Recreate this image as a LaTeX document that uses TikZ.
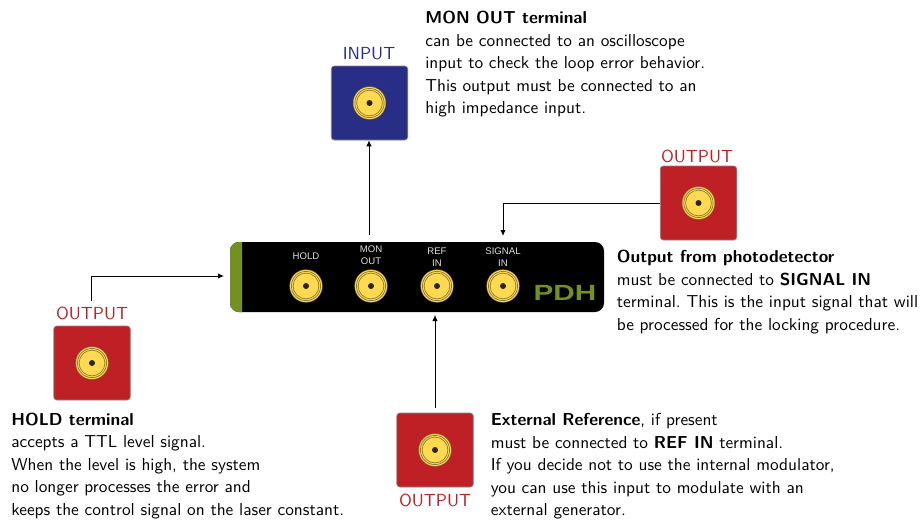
\documentclass[tikz,border=0pt]{standalone}
\usepackage{fontspec}
\setmainfont{Liberation Sans}
\setsansfont{Latin Modern Sans}
\usetikzlibrary{arrows.meta,calc}
\definecolor{cred}{HTML}{BE2025}
\definecolor{cblue}{HTML}{282D85}
\definecolor{cgreen}{HTML}{739021}
\definecolor{cgold}{HTML}{FFD94F}
\definecolor{cring}{HTML}{8A7A3A}
\definecolor{cedge}{HTML}{555555}
\tikzset{
 x=1pt,y=-1pt,
 srcbox/.style={draw=cedge!70,line width=0.6pt,rounded corners=3pt,minimum width=76.5pt,minimum height=74pt,inner sep=0pt},
 redbox/.style={srcbox,fill=cred},
 bluebox/.style={srcbox,fill=cblue},
 caption/.style={font=\sffamily\fontsize{10}{10}\selectfont,scale=1.75,inner sep=0pt},
 note/.style={font=\sffamily\frenchspacing\fontsize{10}{13}\selectfont,scale=1.73,align=left,anchor=north west,inner sep=0pt},
 panellabel/.style={font=\fontsize{9.6}{11.7}\selectfont,text=white!88!black,align=center,inner sep=0pt},
 conn/.style={line width=1pt,-{Latex[length=6pt,width=5.5pt]}},
}
\newcommand{\bnc}[1]{%
 \fill[cring] (#1) circle (16.6pt);
 \fill[cgold] (#1) circle (16pt);
 \draw[cring,line width=0.7pt] (#1) circle (14.6pt);
 \draw[cring,line width=0.7pt] (#1) circle (12.9pt);
 \fill[black!85] (#1) circle (3pt);
}
\begin{document}
\begin{tikzpicture}
\useasboundingbox (0,0) rectangle (924,522);
% panel
\fill[black,rounded corners=9pt] (230,242) rectangle (604,312);
\begin{scope}
\clip (230,241) rectangle (242,313);
\fill[cgreen,rounded corners=9pt] (230,242) rectangle (260,312);
\end{scope}
\node[panellabel] (holdl) at (306,256) {HOLD};
\node[panellabel] (monl) at (371,255.5) {MON\\OUT};
\node[panellabel] (refl) at (437,257) {REF\\IN};
\node[panellabel] (sigl) at (503,257) {SIGNAL\\IN};
\coordinate (hold) at (306,286);
\coordinate (mon) at (371,286);
\coordinate (ref) at (437,286);
\coordinate (sig) at (503,286);
\bnc{hold}\bnc{mon}\bnc{ref}\bnc{sig}
\node[font=\fontsize{22}{22}\selectfont\bfseries,text=cgreen,inner sep=0pt,xscale=1.35] (pdh) at (565,292.5) {PDH};
\coordinate (panelw) at (224,276);
\coordinate (panels) at (435,315);
\coordinate (panelnm) at (369,235);
\coordinate (panelns) at (503,236);
% boxes
\node[bluebox] (input) at (369.5,103) {};
\coordinate (b1) at (369.5,103); \bnc{b1}
\node[caption,text=cblue] (inputc) at (369,54) {INPUT};
\node[redbox] (outr) at (698.5,203) {};
\coordinate (b2) at (698.5,203); \bnc{b2}
\node[caption,text=cred] (outrc) at (697,156) {OUTPUT};
\node[redbox] (outl) at (92,363) {};
\coordinate (b3) at (92,363); \bnc{b3}
\node[caption,text=cred] (outlc) at (92,313) {OUTPUT};
\node[redbox] (outb) at (435,450) {};
\coordinate (b4) at (435,450); \bnc{b4}
\node[caption,text=cred] (outbc) at (435,500) {OUTPUT};
% connectors
\draw[conn] (panelnm) -- (input.south -| panelnm);
\draw[conn] (outr.west) -| (panelns);
\draw[conn] ($(outlc.north -| 91,0)+(0,-5)$) -- (91,276) -- (panelw);
\draw[conn] ($(outb.north)+(0,-5)$) -- (panels);
% notes
\node[note] (n1) at (425,11) {\textbf{MON OUT terminal}\\can be connected to an oscilloscope\\input to check the loop error behavior.\\This output must be connected to an\\high impedance input.};
\node[note] (n2) at (616.5,250) {\textbf{Output from photodetector}\\must be connected to \textbf{SIGNAL IN}\\terminal. This is the input signal that will\\be processed for the locking procedure.};
\node[note] (n3) at (11,412.5) {\textbf{HOLD terminal}\\accepts a TTL level signal.\\When the level is high, the system\\no longer processes the error and\\keeps the control signal on the laser constant.};
\node[note] (n4) at (490.5,413) {\textbf{External Reference}, if present\\must be connected to \textbf{REF IN} terminal.\\If you decide not to use the internal modulator,\\you can use this input to modulate with an\\external generator.};
\end{tikzpicture}
\end{document}
